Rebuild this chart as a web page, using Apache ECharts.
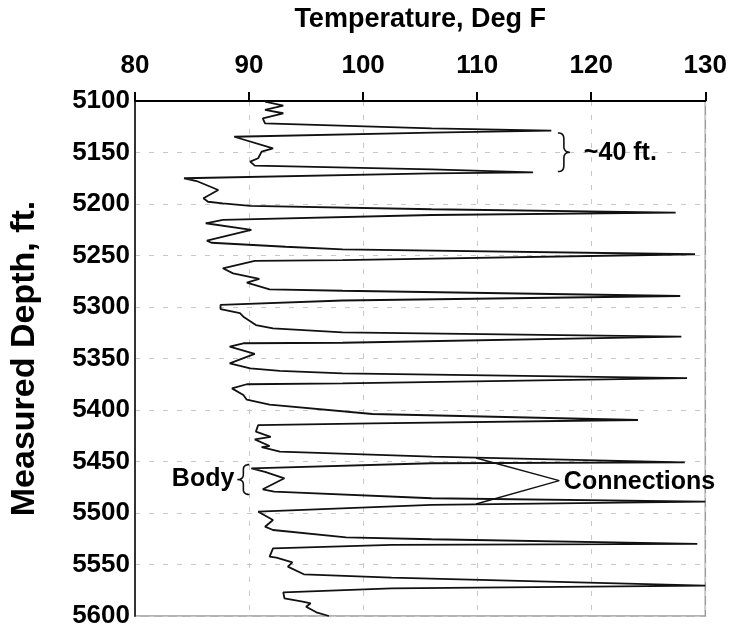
<!DOCTYPE html>
<html>
<head>
<meta charset="utf-8">
<title>Temperature profile</title>
<script src="https://cdn.jsdelivr.net/npm/echarts@6/dist/echarts.min.js"></script>
<style>
  html, body { margin: 0; padding: 0; background: #fff; }
  #chart { width: 730px; height: 630px; }
</style>
</head>
<body>
<div id="chart"></div>
<script>
// Temperature log along the well: [temperature (deg F), measured depth (ft)]
const temperatureLog = [
  [91.4, 5100.7], [93.0, 5104.6], [91.4, 5108.7], [93.0, 5111.9], [91.2, 5116.8], [91.4, 5121.7],
  [106.0, 5126.5], [116.5, 5128.8],
  [106.0, 5130.8], [88.7, 5134.7], [92.1, 5145.9], [91.1, 5149.2], [90.8, 5155.6], [90.1, 5158.9], [90.5, 5162.8],
  [106.0, 5166.3], [114.9, 5169.2],
  [106.0, 5170.2], [84.3, 5175.0], [85.4, 5177.7], [87.3, 5186.4], [86.0, 5194.5], [86.4, 5197.8], [87.7, 5199.3], [90.1, 5201.9],
  [106.0, 5205.1], [127.4, 5208.4],
  [106.0, 5210.7], [87.7, 5215.5], [86.2, 5218.7], [90.2, 5225.2], [86.3, 5235.6], [86.7, 5237.6], [93.2, 5241.5], [98.2, 5244.0],
  [129.1, 5248.8],
  [98.2, 5254.4], [90.5, 5255.3], [87.7, 5262.4], [88.6, 5267.3], [90.9, 5272.8], [89.8, 5276.4], [91.8, 5282.8], [98.2, 5284.2],
  [127.8, 5289.3],
  [98.2, 5293.7], [87.5, 5298.0], [87.5, 5302.0], [89.2, 5306.0], [89.5, 5309.4], [90.6, 5317.5], [92.1, 5320.7], [98.2, 5324.6],
  [127.9, 5328.8],
  [98.2, 5334.7], [89.5, 5335.2], [88.3, 5338.5], [90.5, 5345.6], [88.3, 5354.7], [90.1, 5359.5], [92.7, 5362.0], [98.2, 5364.4],
  [128.4, 5369.0],
  [98.2, 5374.1], [89.8, 5375.0], [88.5, 5379.0], [89.5, 5385.4], [89.8, 5390.0], [91.8, 5394.8], [100.8, 5403.9],
  [124.1, 5409.7],
  [100.8, 5412.9], [90.8, 5414.6], [90.6, 5421.0], [91.9, 5426.0], [90.5, 5428.5], [91.8, 5435.0], [91.1, 5436.0], [92.7, 5440.5],
  [106.0, 5445.3], [128.2, 5450.8],
  [106.0, 5451.7], [90.2, 5456.6], [91.4, 5460.0], [93.1, 5466.3], [91.2, 5477.0], [92.2, 5479.3],
  [106.0, 5485.7], [130.0, 5489.0],
  [106.0, 5492.2], [90.8, 5498.7], [92.1, 5506.8], [91.4, 5513.3], [92.1, 5516.5], [98.5, 5523.6],
  [106.0, 5525.5], [129.3, 5530.0],
  [102.5, 5531.0], [92.1, 5534.3], [91.8, 5542.4], [92.4, 5543.4], [93.8, 5547.9], [93.4, 5552.1], [94.8, 5559.5],
  [102.5, 5562.8], [130.0, 5570.6],
  [102.5, 5573.1], [93.0, 5577.0], [93.1, 5582.8], [94.7, 5586.1], [95.4, 5587.7], [95.0, 5591.0], [95.9, 5596.4], [97.0, 5600.0]
];

// Pointer from the "Connections" label to two neighbouring joints
const connectionPointer = [[109.9, 5446.6], [117.2, 5468.6], [109.9, 5491.3]];

// Axis ranges
const tempRange = { min: 80, max: 130, step: 10 };
const depthRange = { min: 5100, max: 5600, step: 50 };

// Callout texts with the depth interval each brace covers
const jointLengthNote = { text: '~40 ft.', temp: 117.6, from: 5131, to: 5168.5 };
const bodyNote = { text: 'Body', temp: 89.5, from: 5453, to: 5482 };
const connectionsNote = { text: 'Connections', temp: 117.6, depth: 5469 };

const FONT = '"Liberation Sans", Arial, Helvetica, sans-serif';

const chart = echarts.init(document.getElementById('chart'), null, { renderer: 'canvas' });

const gridLine = { show: true, lineStyle: { color: '#c8c8c8', type: [5, 9], width: 1 } };

chart.setOption({
  backgroundColor: '#fff',
  animation: false,
  grid: { left: 131, right: 24, top: 101, bottom: 14, show: true, borderColor: '#9a9a9a', borderWidth: 1.5 },
  xAxis: {
    type: 'value',
    position: 'top',
    min: tempRange.min, max: tempRange.max, interval: tempRange.step,
    name: 'Temperature, Deg F',
    nameLocation: 'middle',
    nameGap: 68,
    nameTextStyle: { fontFamily: FONT, fontWeight: 'bold', fontSize: 27, color: '#000' },
    axisLine: { show: true, lineStyle: { color: '#000', width: 2 } },
    axisTick: { show: true, inside: false, length: 9, lineStyle: { color: '#000', width: 2 } },
    axisLabel: { fontFamily: FONT, fontWeight: 'bold', fontSize: 26, color: '#000', margin: 22, formatter: v => String(v) },
    splitLine: gridLine
  },
  yAxis: {
    type: 'value',
    inverse: true,
    min: depthRange.min, max: depthRange.max, interval: depthRange.step,
    name: 'Measured Depth, ft.',
    nameLocation: 'middle',
    nameGap: 93,
    nameTextStyle: { fontFamily: FONT, fontWeight: 'bold', fontSize: 34, color: '#000' },
    axisLine: { show: true, lineStyle: { color: '#333', width: 2 } },
    axisTick: { show: false },
    axisLabel: { fontFamily: FONT, fontWeight: 'bold', fontSize: 26, color: '#000', margin: 5, formatter: v => String(v) },
    splitLine: gridLine
  },
  series: [
    {
      name: 'Temperature',
      type: 'line',
      data: temperatureLog,
      showSymbol: false,
      symbol: 'none',
      smooth: false,
      clip: true,
      lineStyle: { color: '#111', width: 1.8 },
      z: 3
    },
    {
      name: 'Connections pointer',
      type: 'line',
      data: connectionPointer,
      showSymbol: false,
      symbol: 'none',
      silent: true,
      lineStyle: { color: '#111', width: 1.4 },
      z: 4
    }
  ]
});

// Curly brace as a polyline: dir = 1 points right ('}'), dir = -1 points left ('{')
function bracePoints(x, y0, y1, dir, w) {
  const m = (y0 + y1) / 2;
  const r = Math.min(6, (y1 - y0) / 6);
  const pts = [];
  const quad = (p0, c, p1) => {
    for (let i = 0; i <= 8; i++) {
      const t = i / 8;
      pts.push([
        (1 - t) * (1 - t) * p0[0] + 2 * (1 - t) * t * c[0] + t * t * p1[0],
        (1 - t) * (1 - t) * p0[1] + 2 * (1 - t) * t * c[1] + t * t * p1[1]
      ]);
    }
  };
  const h = dir * w / 2;
  quad([x - h, y0], [x, y0], [x, y0 + r]);
  quad([x, m - r], [x, m], [x + h, m]);
  quad([x + h, m], [x, m], [x, m + r]);
  quad([x, y1 - r], [x, y1], [x - h, y1]);
  return pts;
}

function px(temp, depth) { return chart.convertToPixel({ gridIndex: 0 }, [temp, depth]); }

const noteFont = 'bold 25px ' + FONT;
const a0 = px(jointLengthNote.temp, jointLengthNote.from);
const a1 = px(jointLengthNote.temp, jointLengthNote.to);
const b0 = px(bodyNote.temp, bodyNote.from);
const b1 = px(bodyNote.temp, bodyNote.to);
const c0 = px(connectionsNote.temp, connectionsNote.depth);

chart.setOption({
  graphic: [
    { type: 'polyline', shape: { points: bracePoints(a0[0], a0[1], a1[1], 1, 12) }, style: { fill: null, stroke: '#111', lineWidth: 1.6 }, z: 10 },
    { type: 'text', x: a0[0] + 20, y: (a0[1] + a1[1]) / 2 + 1, style: { text: jointLengthNote.text, font: noteFont, fill: '#000', verticalAlign: 'middle', align: 'left' }, z: 10 },
    { type: 'polyline', shape: { points: bracePoints(b0[0], b0[1], b1[1], -1, 12) }, style: { fill: null, stroke: '#111', lineWidth: 1.6 }, z: 10 },
    { type: 'text', x: b0[0] - 9, y: (b0[1] + b1[1]) / 2, style: { text: bodyNote.text, font: noteFont, fill: '#000', verticalAlign: 'middle', align: 'right' }, z: 10 },
    { type: 'text', x: c0[0], y: c0[1] + 1, style: { text: connectionsNote.text, font: noteFont, fill: '#000', verticalAlign: 'middle', align: 'left' }, z: 10 }
  ]
});
</script>
</body>
</html>
